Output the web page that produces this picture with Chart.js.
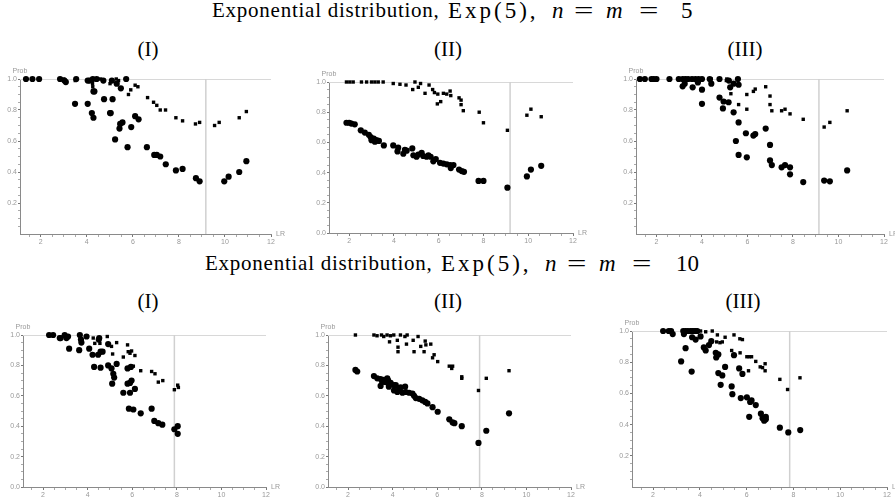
<!DOCTYPE html>
<html>
<head>
<meta charset="utf-8">
<script src="https://cdn.jsdelivr.net/npm/chart.js@4.4.1/dist/chart.umd.min.js"></script>
<style>
  body { margin: 0; width: 895px; height: 500px; background: #fff; position: relative; overflow: hidden; font-family: "Liberation Serif", serif; color: #000; }
  .t { position: absolute; font-size: 21px; line-height: 21px; white-space: nowrap; }
  .m { position: absolute; font-size: 23px; line-height: 23px; white-space: nowrap; }
  .eq { transform: scaleX(1.5); transform-origin: left center; }
  .sub { position: absolute; width: 100px; text-align: center; font-size: 21px; line-height: 21px; }
  canvas { position: absolute; }
</style>
</head>
<body>
<div class="t" style="top:0;left:212px;letter-spacing:0.75px">Exponential distribution,</div>
<div class="m" style="top:-1px;left:448px;letter-spacing:3px">Exp(5),</div>
<div class="m" style="top:-1px;left:552px"><i>n</i></div>
<div class="m eq" style="top:-1px;left:574px">=</div>
<div class="m" style="top:-1px;left:606px"><i>m</i></div>
<div class="m eq" style="top:-1px;left:639px">=</div>
<div class="m" style="top:-1px;left:681px">5</div>
<div class="sub" style="left:98px;top:39px">(I)</div>
<div class="sub" style="left:398px;top:39px">(II)</div>
<div class="sub" style="left:695px;top:39px">(III)</div>

<div class="t" style="top:253px;left:205px;letter-spacing:0.75px">Exponential distribution,</div>
<div class="m" style="top:252px;left:441px;letter-spacing:3px">Exp(5),</div>
<div class="m" style="top:252px;left:545px"><i>n</i></div>
<div class="m eq" style="top:252px;left:567px">=</div>
<div class="m" style="top:252px;left:599px"><i>m</i></div>
<div class="m eq" style="top:252px;left:632px">=</div>
<div class="m" style="top:252px;left:676px">10</div>
<div class="sub" style="left:98px;top:291px">(I)</div>
<div class="sub" style="left:398px;top:291px">(II)</div>
<div class="sub" style="left:693px;top:291px">(III)</div>

<canvas id="p1"></canvas>
<canvas id="p2"></canvas>
<canvas id="p3"></canvas>
<canvas id="p4"></canvas>
<canvas id="p5"></canvas>
<canvas id="p6"></canvas>

<script>
// axes
const xMin = 1.1;
const xMax = 12;
const xMajorTicks = [2, 4, 6, 8, 10, 12];
const yMajorTicks = [0, 0.2, 0.4, 0.6, 0.8, 1.0];

// n = m = 5, panel (I)
const p1Circles = [
  [1.36,1.0],[1.64,1.0],[1.93,1.0],[2.84,1.0],[3.03,0.99],[3.09,0.98],[3.54,1.0],[4.04,0.99],[4.12,0.99],
  [4.26,1.0],[4.43,1.0],[4.72,0.99],[5.09,0.99],[5.71,1.0],
  [3.49,0.84],[4.04,0.84],[4.22,0.78],[4.29,0.75],[4.29,0.92],[4.33,0.92],[4.75,0.87],[5.12,0.87],
  [5.01,0.78],[5.04,0.78],[5.23,0.61],[5.45,0.71],[5.42,0.68],[5.55,0.72],[5.48,0.94],[5.30,0.97],
  [5.77,0.56],[5.93,0.69],[6.10,0.76],[6.25,0.74],[6.61,0.56],[6.93,0.51],[7.04,0.51],[7.19,0.50],
  [7.43,0.45],[7.87,0.41],[8.16,0.42],[8.74,0.36],[8.90,0.34],[9.97,0.34],[10.16,0.37],[10.62,0.40],[10.93,0.47]
];
const p1Squares = [
  [3.0,1.0],[3.5,0.99],[4.6,1.0],[4.25,0.97],[4.26,0.95],[5.01,0.97],[5.28,1.0],[5.38,0.99],[5.81,0.90],
  [5.91,0.93],[6.10,0.96],[6.22,0.95],[6.64,0.88],[6.90,0.85],[7.04,0.83],[7.19,0.80],[7.42,0.80],
  [7.87,0.75],[8.16,0.73],[8.72,0.71],[8.90,0.72],[9.55,0.70],[9.75,0.72],[10.62,0.75],[10.93,0.79]
];

// n = m = 5, panel (II)
const p2Circles = [
  [1.88,0.73],[2.0,0.73],[2.1,0.725],[2.25,0.72],[2.52,0.68],[2.70,0.665],[2.88,0.65],[2.96,0.635],
  [3.0,0.615],[3.1,0.625],[3.15,0.605],[3.22,0.615],[3.33,0.61],[3.55,0.58],[3.97,0.58],[4.19,0.565],
  [4.16,0.54],[4.42,0.525],[4.49,0.55],[4.57,0.545],[4.82,0.56],[4.87,0.515],[5.01,0.505],[5.09,0.52],
  [5.24,0.53],[5.31,0.51],[5.46,0.505],[5.54,0.515],[5.64,0.505],[5.76,0.475],[5.87,0.49],[6.06,0.465],
  [6.21,0.46],[6.36,0.455],[6.51,0.45],[6.54,0.43],[6.66,0.45],[6.91,0.42],[7.03,0.41],[7.13,0.405],
  [7.78,0.345],[8.0,0.345],[9.07,0.30],[9.94,0.375],[10.12,0.42],[10.58,0.445]
];
const p2Squares = [
  [1.88,1.0],[2.03,1.0],[2.18,1.0],[2.55,1.0],[2.78,1.0],[3.0,1.0],[3.15,1.0],[3.30,1.0],[3.52,1.0],
  [3.97,0.99],[4.27,0.985],[4.54,0.98],[4.84,0.95],[4.94,1.0],[5.09,0.965],[5.19,0.99],[5.39,0.925],
  [5.57,0.98],[5.73,0.95],[5.81,0.93],[5.96,0.92],[5.94,0.855],[6.09,0.87],[6.21,0.925],[6.36,0.92],
  [6.51,0.94],[6.54,0.91],[6.91,0.895],[7.0,0.88],[7.0,0.85],[7.10,0.81],[7.81,0.80],[8.0,0.73],
  [9.07,0.68],[9.94,0.78],[10.12,0.82],[10.58,0.77]
];

// n = m = 5, panel (III)
const p3Circles = [
  [1.27,1.0],[1.49,1.0],[1.78,1.0],[1.88,1.0],[2.0,1.0],[2.57,1.0],[2.98,1.0],[3.15,1.0],[3.27,1.0],
  [3.39,1.0],[3.56,1.0],[3.71,1.0],[3.85,1.0],[4.0,1.0],[4.34,1.0],[4.77,1.0],[5.18,0.99],[5.58,1.0],
  [3.15,0.953],[3.24,0.97],[3.59,0.946],[3.82,0.978],[4.0,0.931],[4.41,0.97],[5.24,0.946],[5.61,0.963],[5.39,0.97],
  [4.0,0.84],[4.77,0.88],[4.95,0.855],[5.17,0.85],[4.92,0.81],[5.39,0.785],[5.61,0.72],[5.49,0.60],
  [5.61,0.51],[5.93,0.65],[5.97,0.495],[6.26,0.635],[6.34,0.645],[6.80,0.68],[6.99,0.575],[6.99,0.475],
  [7.07,0.445],[7.50,0.43],[7.65,0.445],[7.87,0.43],[7.87,0.385],[8.45,0.335],[9.37,0.345],[9.62,0.34],[10.38,0.41]
];
const p3Squares = [
  [4.41,1.0],[5.09,1.0],[5.07,0.99],[5.27,0.905],[5.61,0.835],[5.97,0.90],[5.97,0.805],[6.26,0.92],
  [6.34,0.935],[6.80,0.95],[6.99,0.89],[6.99,0.835],[7.07,0.795],[7.50,0.795],[7.65,0.805],[7.87,0.775],
  [8.45,0.74],[9.37,0.69],[9.62,0.72],[10.38,0.795]
];

// n = m = 10, panel (I)
const p4Circles = [
  [2.27,1.0],[2.45,1.0],[2.79,0.98],[2.97,1.0],[3.12,0.99],[3.65,1.0],[2.75,0.98],[3.05,0.98],
  [3.95,0.99],[4.5,0.97],[3.7,0.97],
  [3.17,0.91],[3.62,0.90],[3.72,0.95],[4.07,0.91],[4.22,0.87],[4.29,0.79],[4.47,0.87],[4.58,0.89],
  [4.67,0.89],[4.58,0.785],[4.52,0.98],[4.92,0.94],[4.92,0.80],[5.07,0.78],[5.15,0.745],[5.10,0.68],
  [5.19,0.72],[5.30,0.81],[5.60,0.62],[5.79,0.68],[5.90,0.685],[5.90,0.62],[5.97,0.70],[6.12,0.645],
  [5.85,0.515],[6.05,0.51],[6.38,0.485],[6.87,0.515],[6.99,0.435],[7.17,0.42],[7.35,0.41],[7.89,0.38],
  [8.04,0.40],[8.04,0.35],[5.79,0.78],[5.94,0.79]
];
const p4Squares = [
  [3.95,0.99],[4.25,0.98],[4.32,0.945],[4.55,0.945],[4.88,0.99],[5.12,0.875],[5.07,0.925],[5.30,0.95],
  [5.60,0.855],[5.79,0.935],[5.82,0.89],[5.90,0.88],[5.97,0.895],[6.12,0.865],[6.05,0.795],[6.38,0.765],
  [6.87,0.76],[7.02,0.745],[7.17,0.69],[7.37,0.70],[7.89,0.64],[8.04,0.67],[8.07,0.655]
];

// n = m = 10, panel (II)
const p5Circles = [
  [2.33,0.77],[2.41,0.76],[3.16,0.73],[3.31,0.715],[3.46,0.71],[3.53,0.69],[3.61,0.705],[3.76,0.715],
  [3.80,0.70],[3.91,0.685],[4.06,0.67],[3.46,0.665],[3.83,0.66],[4.06,0.635],[4.21,0.625],[4.29,0.65],
  [4.44,0.62],[4.56,0.66],[4.59,0.625],[4.74,0.62],[4.89,0.615],[4.96,0.60],[5.04,0.585],[5.19,0.58],
  [4.14,0.67],[4.36,0.655],[3.68,0.69],[5.33,0.57],
  [5.46,0.56],[5.56,0.55],[5.79,0.525],[6.02,0.495],[6.54,0.445],[6.69,0.425],[6.77,0.42],[7.10,0.40],
  [7.85,0.29],[8.20,0.37],[9.22,0.485]
];
const p5Squares = [
  [2.33,1.0],[3.16,1.0],[3.3,0.995],[3.5,1.0],[3.6,0.99],[3.75,1.0],[3.9,0.995],[4.05,1.0],[4.35,1.0],
  [4.55,0.99],[4.65,1.0],
  [3.86,0.955],[4.21,0.965],[4.24,0.92],[4.24,0.89],[4.62,0.94],[4.92,0.965],[4.96,0.89],[5.14,0.99],
  [5.26,0.925],[5.46,0.96],[5.49,0.935],[5.41,0.89],[5.71,0.94],[5.79,0.85],[5.86,0.87],[6.02,0.825],
  [6.54,0.795],[6.65,0.78],[6.69,0.795],[7.10,0.725],[7.10,0.715],[7.85,0.635],[8.20,0.715],[9.22,0.765]
];

// n = m = 10, panel (III)
const p6Circles = [
  [2.43,1.0],[2.67,1.0],[2.77,1.0],[3.29,1.0],[3.39,1.0],[3.49,1.0],[3.60,1.0],[3.67,1.0],[3.75,1.0],
  [3.82,1.0],[3.89,1.0],
  [2.84,0.98],[3.32,0.98],[3.67,0.96],[4.03,0.965],[3.82,0.945],[3.20,0.805],[3.39,0.89],[3.65,0.74],
  [4.17,0.895],[4.25,0.875],[4.39,0.91],[4.49,0.935],[4.68,0.86],[4.70,0.83],[4.79,0.85],[4.79,0.73],
  [4.89,0.655],[4.96,0.715],[5.08,0.77],[5.36,0.645],[5.39,0.595],[5.46,0.845],[5.75,0.57],[5.82,0.725],
  [5.68,0.76],[6.01,0.575],[6.11,0.45],[6.15,0.545],[6.21,0.555],[6.39,0.525],[6.61,0.47],[6.68,0.44],
  [6.75,0.425],[6.82,0.45],[6.82,0.435],[7.42,0.38],[7.78,0.35],[8.29,0.365]
];
const p6Squares = [
  [4.03,1.0],[4.25,0.995],[4.53,1.0],[4.75,0.975],[4.72,0.93],[4.86,0.925],[4.96,0.93],[5.08,0.96],
  [5.46,0.975],[5.71,0.95],[5.82,0.945],[5.36,0.875],[5.72,0.86],[6.01,0.835],[6.11,0.835],[6.21,0.835],
  [6.08,0.745],[6.39,0.805],[6.58,0.77],[6.68,0.765],[6.79,0.79],[6.79,0.745],[7.42,0.69],[7.75,0.625],[8.28,0.70]
];

// gray vertical reference line per panel
const refLines = [9.17, 9.19, 9.14, 7.89, 7.90, 7.84];

// plot-area boxes on the page (left, top, right, bottom)
const panels = [
  { id: "p1", box: [20, 79, 271, 234],  circles: p1Circles, squares: p1Squares, zero: false },
  { id: "p2", box: [329, 82, 573, 233], circles: p2Circles, squares: p2Squares, zero: true },
  { id: "p3", box: [636, 79, 884, 234], circles: p3Circles, squares: p3Squares, zero: false },
  { id: "p4", box: [23, 335, 266, 487], circles: p4Circles, squares: p4Squares, zero: true },
  { id: "p5", box: [328, 335, 571, 487], circles: p5Circles, squares: p5Squares, zero: true },
  { id: "p6", box: [632, 331, 887, 487], circles: p6Circles, squares: p6Squares, zero: false }
];

const Y_W = 22, X_H = 16, PAD_T = 16, PAD_R = 18;

const isMajor = (v, list) => list.some(m => Math.abs(m - v) < 1e-6);

const axisLabels = {
  id: "axisLabels",
  afterDraw(chart) {
    const { ctx, chartArea: a } = chart;
    ctx.save();
    ctx.fillStyle = "#999";
    ctx.font = '7px "Liberation Sans"';
    ctx.textAlign = "center";
    ctx.textBaseline = "bottom";
    ctx.fillText("Prob", a.left, a.top - 4);
    ctx.textAlign = "left";
    ctx.textBaseline = "middle";
    ctx.fillText("LR", a.right + 5, a.bottom);
    ctx.restore();
  }
};

panels.forEach((p, i) => {
  const [l, t, r, b] = p.box;
  const cv = document.getElementById(p.id);
  const left = l - Y_W, top = t - PAD_T;
  cv.width = r + PAD_R - left;
  cv.height = b + X_H - top;
  cv.style.left = left + "px";
  cv.style.top = top + "px";

  const xTicks = [];
  for (let v = 1.5; v <= xMax + 1e-6; v += 0.5) xTicks.push(+v.toFixed(2));
  const yTicks = [];
  for (let v = p.zero ? 0 : 0.05; v <= 1 + 1e-6; v += 0.05) yTicks.push(+v.toFixed(2));

  const pts = arr => arr.map(([x, y]) => ({ x, y }));

  new Chart(cv, {
    type: "scatter",
    data: {
      datasets: [
        { data: pts(p.circles), pointStyle: "circle", pointRadius: 3.1, backgroundColor: "#000", borderWidth: 0, clip: false },
        { data: pts(p.squares), pointStyle: "rect", pointRadius: 2.4, backgroundColor: "#000", borderWidth: 0, clip: false },
        { data: [{ x: refLines[i], y: 0 }, { x: refLines[i], y: 1 }], showLine: true, pointRadius: 0, borderColor: "#d0d0d0", borderWidth: 1.5 },
        { data: [{ x: xMin, y: 1 }, { x: xMax, y: 1 }], showLine: true, pointRadius: 0, borderColor: "#d8d8d8", borderWidth: 2 }
      ]
    },
    options: {
      responsive: false,
      animation: false,
      events: [],
      layout: { padding: { top: PAD_T, right: PAD_R, left: 0, bottom: 0 } },
      plugins: { legend: { display: false }, tooltip: { enabled: false } },
      scales: {
        x: {
          type: "linear",
          min: xMin,
          max: xMax,
          afterFit: s => { s.height = X_H; },
          afterBuildTicks: s => { s.ticks = xTicks.map(v => ({ value: v })); },
          border: { color: "#8a8a8a", width: 1 },
          grid: {
            drawOnChartArea: false,
            tickLength: 3,
            tickColor: c => isMajor(c.tick.value, xMajorTicks) ? "#777" : "#aaa",
            tickWidth: 1
          },
          ticks: {
            autoSkip: false,
            maxRotation: 0,
            padding: 1,
            color: "#999",
            font: { family: "Liberation Sans", size: 7 },
            callback: v => isMajor(v, xMajorTicks) ? String(v) : ""
          }
        },
        y: {
          type: "linear",
          min: 0,
          max: 1,
          afterFit: s => { s.width = Y_W; },
          afterBuildTicks: s => { s.ticks = yTicks.map(v => ({ value: v })); },
          border: { color: "#8a8a8a", width: 1 },
          grid: {
            drawOnChartArea: false,
            tickLength: 2,
            tickColor: c => isMajor(c.tick.value, yMajorTicks) ? "#777" : "#aaa",
            tickWidth: 1
          },
          ticks: {
            autoSkip: false,
            padding: 1,
            color: "#999",
            font: { family: "Liberation Sans", size: 7 },
            callback: v => isMajor(v, yMajorTicks) ? v.toFixed(1) : ""
          }
        }
      }
    },
    plugins: [axisLabels]
  });
});
</script>
</body>
</html>
